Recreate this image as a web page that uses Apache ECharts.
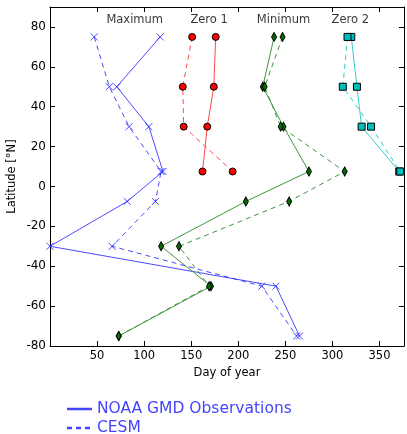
<!DOCTYPE html>
<html>
<head>
<meta charset="utf-8">
<script src="https://cdn.jsdelivr.net/npm/echarts@6/dist/echarts.min.js"></script>
<style>
    *{ margin:0; padding:0; }
    body{ background:#fff; }
    #chart{ width:407px; height:434px; }
</style>
</head>
<body>
<div id="chart"></div>
<script type="text/javascript">
    // latitudes of the bands (deg N)
    var latitudes = [75, 50, 30, 7.5, -7.5, -30, -50, -75];
    var latNorth = [75, 50, 30, 7.5];
    // day of year values
    var maxObs   = [117, 71, 105, 120, 82, 0, 240, 265];
    var maxCesm  = [47, 63, 84, 118, 112, 66, 225, 262];
    var zero1Obs  = [176, 174, 167, 162];
    var zero1Cesm = [151, 141, 142, 194];
    var minObs   = [238, 226, 248, 275, 208, 118, 171, 73];
    var minCesm  = [247, 228, 245, 313, 254, 137, 169, 73];
    var zero2Obs  = [320, 326, 331, 371];
    var zero2Cesm = [316, 311, 341, 372];
    var panelNames = ['Maximum', 'Zero 1', 'Minimum', 'Zero 2'];
    var panelDays  = [90, 169, 248, 319];
    var legendNames = ['NOAA GMD Observations', 'CESM'];

    function pts(days, lats){
        let out = [];
        for(let i=0;i<days.length;i++){ out.push([days[i], lats[i]]); }
        return out;
    }

    let font = 'DejaVu Sans';
    let cross = 'path://M0,0L10,10M10,0L0,10';
    let legendBlue = '#4444ff';

    function lineSeries(data, color, dashed, symbol, size, fill, border){
        return {
            type:'line',
            data:data,
            symbol:symbol,
            symbolSize:size,
            clip:false,
            lineStyle:{ color:color, width:1, type: dashed ? [5,4] : 'solid' },
            itemStyle:{ color:fill, borderColor:border, borderWidth:1 },
            emphasis:{ disabled:true },
            z: 3
        };
    }

    let axisCommon = {
        axisLine:{ show:true, onZero:false, lineStyle:{ color:'#000', width:1 } },
        axisTick:{ show:true, inside:true, length:5, lineStyle:{ color:'#000' } },
        splitLine:{ show:false }
    };

    // legend drawn by hand: line sample + label
    let legendItems = [];
    legendNames.forEach(function(n, i){
        let y = 409 + i * 19;
        legendItems.push({
            type:'line',
            shape:{ x1:67, y1:y, x2:92, y2:y },
            style:{ stroke:legendBlue, lineWidth:2.5, lineDash: i === 0 ? null : [5,4] }
        });
        legendItems.push({
            type:'text', x:97, y:y,
            style:{ text:n, fill:legendBlue, font:'15.5px "DejaVu Sans"', textVerticalAlign:'middle' }
        });
    });

    let chart = echarts.init(document.getElementById('chart'));
    let option = {
        animation:false,
        textStyle:{ fontFamily:font },
        grid:{ left:50, right:3, top:7, bottom:88, containLabel:false, outerBoundsMode:'none' },
        graphic: legendItems,
        xAxis:[
            Object.assign({
                type:'value', min:0, max:376, interval:50,
                name:'Day of year', nameLocation:'middle', nameGap:18,
                nameTextStyle:{ color:'#000', fontSize:11.5, fontFamily:font },
                axisLabel:{ color:'#000', fontSize:11.5, showMinLabel:false, showMaxLabel:false, margin:4 }
            }, axisCommon),
            Object.assign({
                type:'value', min:0, max:376, interval:50, position:'top',
                axisLabel:{ show:false }
            }, axisCommon)
        ],
        yAxis:[
            Object.assign({
                type:'value', min:-80, max:90, interval:20,
                name:'Latitude [°N]', nameLocation:'middle', nameGap:32, nameRotate:90,
                nameMoveOverlap:false,
                nameTextStyle:{ color:'#000', fontSize:11.5, fontFamily:font },
                axisLabel:{ color:'#000', fontSize:12, showMaxLabel:false, margin:4 }
            }, axisCommon),
            Object.assign({
                type:'value', min:-80, max:90, interval:20, position:'right',
                axisLabel:{ show:false }
            }, axisCommon)
        ],
        series:[
            lineSeries(pts(maxObs, latitudes), 'rgba(30,30,255,0.8)', false, cross, 7, 'none', 'rgba(30,30,255,0.8)'),
            lineSeries(pts(maxCesm, latitudes), 'rgba(30,30,255,0.8)', true, cross, 7, 'none', 'rgba(30,30,255,0.8)'),
            lineSeries(pts(zero1Obs, latNorth), '#ff4a4a', false, 'circle', 7, '#ff0000', '#000'),
            lineSeries(pts(zero1Cesm, latNorth), '#ff4a4a', true, 'circle', 7, '#ff0000', '#000'),
            lineSeries(pts(minObs, latitudes), '#3f943f', false, 'diamond', [5,9], '#007000', '#000'),
            lineSeries(pts(minCesm, latitudes), '#3f943f', true, 'diamond', [5,9], '#007000', '#000'),
            lineSeries(pts(zero2Obs, latNorth), '#33cccc', false, 'rect', 7, '#00bfbf', '#000'),
            lineSeries(pts(zero2Cesm, latNorth), '#33cccc', true, 'rect', 7, '#00bfbf', '#000'),
            {
                type:'scatter',
                symbolSize:0,
                silent:true,
                data:panelNames.map(function(n,i){ return { value:[panelDays[i], 83.5], name:n }; }),
                label:{ show:true, position:'inside', formatter:'{b}', color:'#000', fontSize:11.5, fontFamily:font }
            }
        ]
    };
    chart.setOption(option);
</script>
</body>
</html>
